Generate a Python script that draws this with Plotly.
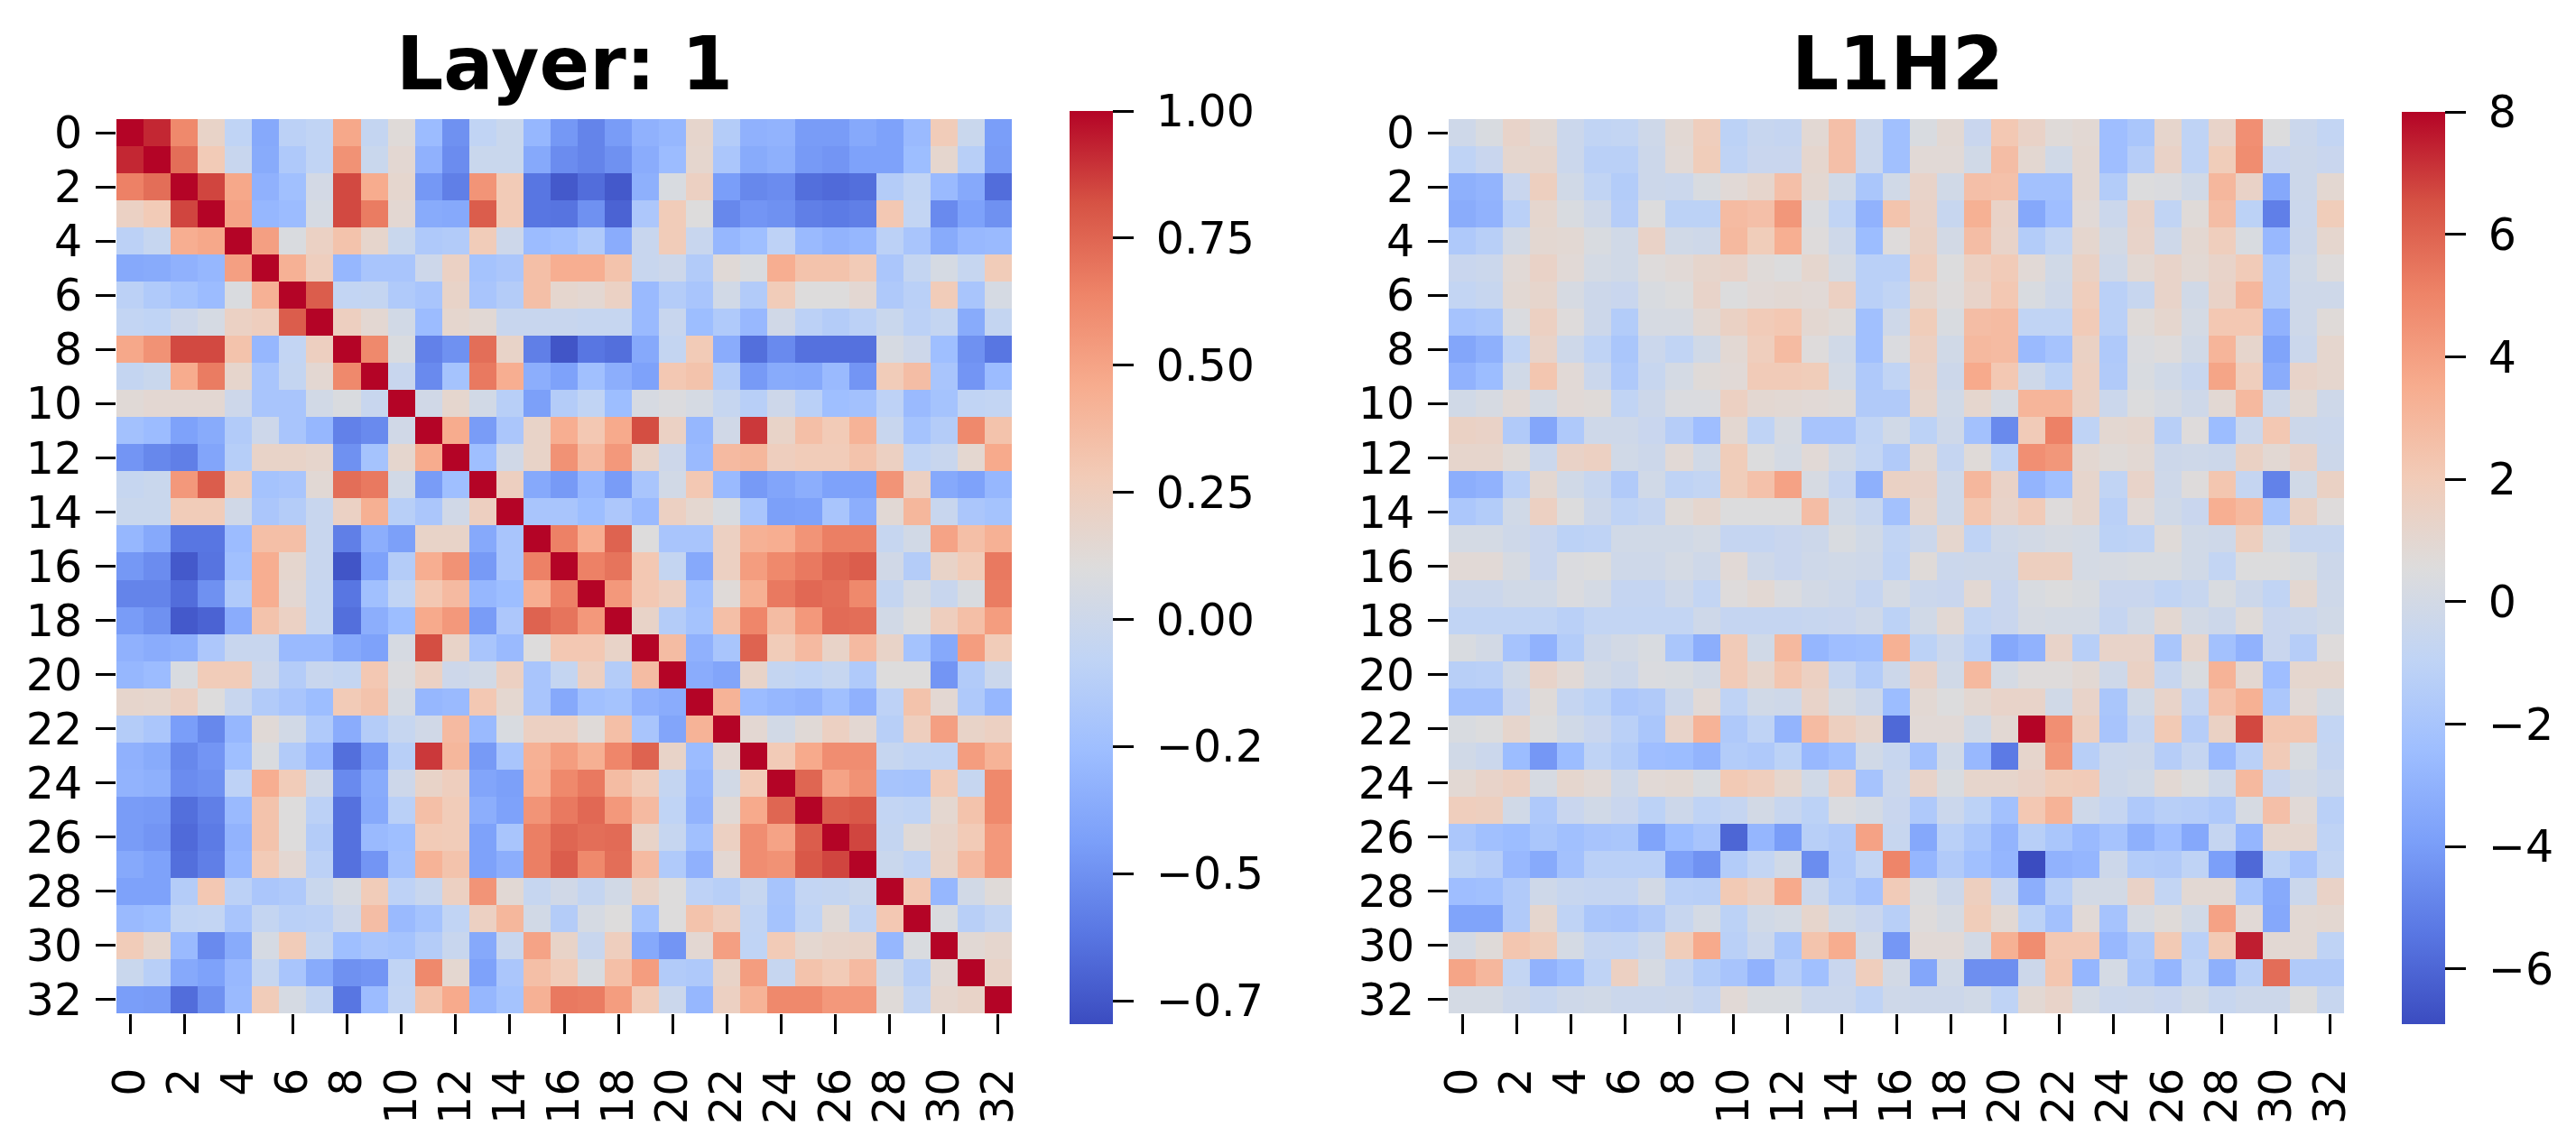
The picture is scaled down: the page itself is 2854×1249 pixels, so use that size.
import plotly.graph_objects as go

W = 2854
H = 1249
PAGE_PAD = 8  # the page body adds this much on the left and top

# Layer: 1, correlation matrix
layer_r00 = [1.0,.92,.62,.2,-.08,-.38,-.1,-.07,.48,-.05,.12,-.27,-.5,-.07,-.02,-.3,-.47,-.56,-.45,-.33,-.3,.18,-.14,-.33,-.32,-.45,-.45,-.38,-.42,-.28,.27,-.02,-.44]
layer_r01 = [.92,1.0,.72,.28,-.03,-.37,-.17,-.07,.58,-.02,.15,-.33,-.52,-.02,-.02,-.38,-.52,-.56,-.5,-.36,-.27,.17,-.19,-.37,-.34,-.46,-.48,-.42,-.42,-.26,.17,-.12,-.45]
layer_r02 = [.65,.72,1,.85,.48,-.33,-.24,.04,.84,.46,.17,-.47,-.58,.57,.28,-.62,-.74,-.66,-.74,-.34,.07,.23,-.44,-.54,-.52,-.65,-.67,-.65,-.14,-.07,-.28,-.38,-.66]
layer_r03 = [.22,.28,.85,1,.5,-.3,-.27,.05,.84,.67,.15,-.37,-.38,.78,.28,-.62,-.63,-.5,-.7,-.18,.27,.1,-.54,-.48,-.5,-.58,-.6,-.58,.3,-.06,-.53,-.42,-.5]
layer_r04 = [-.1,-.04,.45,.48,1,.52,.08,.22,.33,.18,-.02,-.17,-.15,.27,.0,-.27,-.24,-.16,-.36,-.03,.27,-.03,-.3,-.25,-.09,-.28,-.32,-.3,-.1,-.2,-.37,-.29,-.28]
layer_r05 = [-.38,-.37,-.33,-.3,.52,1,.43,.25,-.3,-.2,-.2,.0,.22,-.22,-.19,.35,.45,.45,.33,-.03,0,-.15,.13,.08,.45,.33,.33,.28,-.19,-.05,.05,-.04,.27]
layer_r06 = [-.1,-.16,-.22,-.27,.08,.43,1,.78,-.06,-.05,-.16,-.2,.2,-.2,-.14,.35,.17,.15,.22,-.28,-.14,-.2,.03,-.15,.27,.1,.1,.15,-.17,-.11,.27,-.2,.05]
layer_r07 = [-.06,-.08,0,.05,.22,.25,.78,1,.24,.15,.03,-.27,.17,.14,-.03,-.03,-.03,-.04,-.04,-.28,-.03,-.26,-.16,-.29,.02,-.1,-.14,-.1,-.02,-.1,-.05,-.37,-.05]
layer_r08 = [.48,.58,.84,.84,.33,-.3,-.06,.24,1,.62,.08,-.57,-.5,.72,.2,-.58,-.76,-.62,-.65,-.38,-.05,.28,-.36,-.65,-.53,-.64,-.64,-.64,.06,0,-.25,-.5,-.62]
layer_r09 = [-.05,-.02,.46,.67,.18,-.2,-.05,.15,.62,1,-.03,-.53,-.22,.68,.45,-.35,-.42,-.24,-.35,-.42,.3,.33,-.14,-.46,-.37,-.38,-.28,-.48,.27,.36,-.2,-.48,-.27]
layer_r10 = [.13,.15,.15,.15,0,-.2,-.2,.03,.08,-.03,1,.02,.17,.03,-.12,-.43,-.14,-.07,-.26,.06,.09,.05,-.04,-.12,0,-.11,-.25,-.23,-.09,-.28,-.22,-.07,-.06]
layer_r11 = [-.23,-.27,-.42,-.37,-.15,0,-.2,-.3,-.57,-.53,.02,1,.46,-.45,-.19,.2,.45,.3,.47,.83,.22,-.3,.02,.88,.2,.35,.28,.42,-.03,-.22,-.14,.62,.33]
layer_r12 = [-.48,-.54,-.58,-.4,-.13,.2,.2,.18,-.5,-.22,.17,.46,1,-.25,.02,.2,.58,.38,.55,.2,0,-.28,.38,.4,.25,.27,.27,.33,.23,-.07,-.03,.16,.47]
layer_r13 = [-.04,-.02,.55,.78,.27,-.22,-.2,.14,.72,.68,.03,-.45,-.25,1,.24,-.38,-.46,-.3,-.45,-.2,.03,.3,-.28,-.46,-.4,-.35,-.42,-.42,.57,.23,-.38,-.42,-.3]
layer_r14 = [-.02,-.02,.27,.27,.02,-.19,-.14,-.03,.22,.44,-.12,-.19,.02,.24,1,-.2,-.2,-.26,-.18,-.28,.23,.16,.07,-.2,-.43,-.42,-.2,-.35,.14,.4,-.03,-.19,-.22]
layer_r15 = [-.3,-.38,-.62,-.62,-.27,.35,.35,-.03,-.58,-.35,-.43,.2,.2,-.38,-.2,1,.65,.45,.76,.1,-.2,-.2,.23,.43,.45,.57,.66,.66,-.04,.03,.5,.35,.43]
layer_r16 = [-.47,-.52,-.74,-.63,-.24,.45,.17,-.03,-.76,-.42,-.14,.45,.58,-.46,-.2,.65,1,.65,.7,.3,-.05,-.38,.23,.53,.62,.68,.75,.78,.02,-.14,.2,.27,.68]
layer_r17 = [-.56,-.56,-.66,-.5,-.16,.45,.15,-.04,-.62,-.24,-.07,.3,.38,-.3,-.26,.45,.65,1,.55,.3,.24,-.24,.12,.44,.68,.74,.72,.62,-.05,.05,-.03,.07,.67]
layer_r18 = [-.45,-.5,-.74,-.7,-.36,.33,.22,-.04,-.65,-.35,-.26,.47,.55,-.45,-.18,.76,.7,.55,1,.2,-.14,-.22,.35,.63,.37,.55,.73,.72,.03,.1,.25,.35,.53]
layer_r19 = [-.33,-.36,-.34,-.18,-.03,-.03,-.28,-.28,-.38,-.42,.06,.83,.2,-.2,-.28,.1,.3,.3,.2,1,.37,-.33,-.2,.76,.27,.38,.2,.38,.2,-.22,-.38,.53,.27]
layer_r20 = [-.3,-.27,.07,.27,.27,0,-.14,-.03,-.05,.3,.09,.22,0,.03,.23,-.2,-.05,.24,-.14,.37,1,-.36,-.4,.2,-.05,-.08,-.04,-.16,.1,.1,-.48,-.15,-.01]
layer_r21 = [.18,.17,.23,.1,-.03,-.15,-.2,-.26,.28,.33,.05,-.3,-.28,.3,.16,-.2,-.38,-.24,-.22,-.33,-.36,1,.42,-.27,-.3,-.32,-.24,-.33,-.09,.33,.15,-.17,-.3]
layer_r22 = [-.14,-.19,-.44,-.54,-.3,.13,.03,-.16,-.36,-.14,-.04,.02,.38,-.28,.07,.23,.23,.12,.35,-.2,-.4,.42,1,.15,.03,.13,.23,.15,-.12,.25,.52,.2,.23]
layer_r23 = [-.33,-.37,-.54,-.48,-.25,.08,-.15,-.29,-.65,-.46,-.12,.88,.4,-.46,-.2,.43,.53,.44,.63,.76,.2,-.27,.15,1,.28,.47,.6,.6,-.04,-.07,-.08,.53,.42]
layer_r24 = [-.32,-.34,-.52,-.5,-.09,.45,.27,.02,-.53,-.37,0,.2,.25,-.4,-.43,.45,.62,.68,.37,.27,-.05,-.3,.03,.28,1,.75,.5,.58,-.21,-.22,.28,-.04,.62]
layer_r25 = [-.45,-.46,-.65,-.58,-.28,.33,.1,-.1,-.64,-.38,-.11,.35,.27,-.35,-.42,.57,.68,.74,.55,.38,-.08,-.32,.13,.47,.75,1,.78,.8,-.06,-.08,.16,.33,.62]
layer_r26 = [-.45,-.48,-.67,-.6,-.32,.33,.1,-.14,-.64,-.28,-.25,.28,.27,-.42,-.2,.66,.75,.72,.73,.2,-.04,-.24,.23,.6,.5,.78,1,.85,-.05,.13,.19,.28,.55]
layer_r27 = [-.38,-.42,-.65,-.58,-.3,.28,.15,-.1,-.64,-.48,-.23,.42,.33,-.42,-.35,.66,.78,.62,.72,.38,-.16,-.33,.15,.6,.58,.8,.85,1,-.02,-.07,.2,.38,.55]
layer_r28 = [-.42,-.42,-.14,.3,-.1,-.19,-.17,-.02,.06,.27,-.09,-.03,.23,.57,.14,-.04,.02,-.05,.03,.2,.1,-.09,-.12,-.04,-.21,-.06,-.05,-.02,1,.3,-.3,.03,.12]
layer_r29 = [-.28,-.26,-.07,-.06,-.2,-.05,-.11,-.1,0,.36,-.28,-.22,-.07,.23,.4,.03,-.14,.05,.1,-.22,.1,.33,.25,-.07,-.22,-.08,.13,-.07,.3,1,.08,-.12,-.06]
layer_r30 = [.27,.17,-.28,-.53,-.37,.05,.27,-.05,-.25,-.2,-.22,-.14,-.03,-.38,-.03,.5,.2,-.03,.25,-.38,-.48,.15,.52,-.08,.28,.16,.19,.2,-.3,.08,1,.14,.17]
layer_r31 = [-.02,-.12,-.38,-.42,-.29,-.04,-.2,-.37,-.5,-.48,-.07,.62,.16,-.42,-.19,.35,.27,.07,.35,.53,-.15,-.17,.2,.53,-.04,.33,.28,.38,.03,-.12,.14,1,.2]
layer_r32 = [-.44,-.45,-.66,-.5,-.28,.27,.05,-.05,-.62,-.27,-.06,.33,.47,-.3,-.22,.43,.68,.67,.53,.27,-.01,-.3,.23,.42,.62,.62,.55,.55,.12,-.06,.17,.2,1]

# L1H2
head_r00 = [-.2,.3,1.3,.9,-.4,-.9,-.8,-.2,.9,1.8,-1.1,-.6,-.7,.9,2.6,-.4,-2.3,.3,.9,-.5,2.2,1.4,.7,.9,-2.4,-1.9,1.2,-1.0,1.3,4.6,.5,-.4,-.8]
head_r01 = [-1.0,-.5,1.1,1.2,-.4,-1.2,-1.2,-.3,.8,1.9,-1.0,-.5,-.5,1.1,2.6,-.4,-2.3,.8,.8,-.1,2.7,1.0,-.1,1.0,-2.4,-1.4,1.4,-1.0,1.9,4.7,-.5,-.3,-.5]
head_r02 = [-3.1,-2.9,-.5,1.7,-.1,-.9,-1.5,-.3,-.4,.3,.8,1.2,2.6,1.0,-.1,-1.9,-.1,1.3,-.1,2.6,2.5,-2.2,-2.2,1,-1.5,.5,.4,-.1,3.0,1.4,-3.5,-.3,1]
head_r03 = [-3.3,-3.0,-1.2,1.1,.3,-.2,-1.4,.5,-1.1,-1.1,2.8,2.6,4.3,.4,-.9,-3.0,2.4,1.4,-.6,3.3,1.4,-3.5,-2.4,.8,-.4,1.4,-.9,.7,2.7,-1.1,-5.1,-.4,1.9]
head_r04 = [-1.7,-1.3,0,1,.9,.3,-.1,1.4,-.1,-.2,2.9,1.9,3.4,.6,-.2,-2.5,.6,1.5,0,2.7,1.3,-1.5,-.8,1.1,0,1.3,-.2,1,1.8,.3,-2.7,-.3,1.1]
head_r05 = [-.5,-.4,.8,1.4,.8,.1,-.1,.6,.8,1.2,1.3,.7,.5,1.1,.2,-1.2,-1.2,1.8,.5,1.6,2,.8,-.1,1.5,-.2,.9,1.3,.9,1.3,2,-1.7,-.1,.6]
head_r06 = [-.8,-.6,.9,1.2,.2,-.3,-.5,.3,.5,1.3,.5,.8,.9,.8,1.6,-1.2,-.9,1.2,.6,1.3,2.2,.3,-.2,1.8,-1.2,-.6,1.3,-.1,1.4,3.0,-1.7,-.2,-.2]
head_r07 = [-2.1,-1.9,.4,1.6,.6,-.3,-1.5,.2,.2,.9,1.5,2.0,2.2,1,.7,-2.3,-.2,1.9,.3,2.7,2.8,-.9,-.9,2.0,-1.2,.7,1.1,.1,2.2,2.2,-3,-.2,.7]
head_r08 = [-3.6,-3.1,-.9,1.3,-.2,-1,-1.9,-.4,-.9,-.1,.9,1.8,2.8,.6,-.1,-2.3,.4,1.6,-.1,2.9,2.8,-2.6,-2.1,1.5,-1.7,.4,.6,-.1,3.1,1.2,-3.7,-.4,1.1]
head_r09 = [-3.0,-2.5,-.1,2.3,.8,-.4,-1.7,-.6,.1,.7,.8,2,2,1.9,.1,-1.7,-.9,1.4,-.3,3.6,2.2,-.2,-1.1,1.6,-1.6,.3,-.1,-.6,3.8,1.8,-3.3,1.3,1.1]
head_r10 = [-.1,.2,.8,.1,.8,.7,-.9,-.3,.4,.4,1.6,1,.9,.8,.7,-1.6,-1.6,1.2,-.1,1.1,.2,3.1,3.1,1.5,-.4,.5,.2,-.2,.9,2.9,-.3,.9,-.2]
head_r11 = [1.5,1.4,-1.6,-3.6,-1.7,-.2,-.2,-.5,-1.4,-2.4,1,-1,.2,-2,-2.0,-.9,-.1,-1.1,-.2,-2.2,-4.7,2,5.1,-1,1,1.1,-1.3,.6,-2.5,-.4,2.2,-.3,-.4]
head_r12 = [1.2,1.2,.7,-.4,1.4,1.6,-.1,-.3,.8,-.1,1.9,.5,.1,.8,-.1,-.8,-1.6,1,-.7,.7,-1,4.6,4.3,1,.7,.9,-.3,-.2,-.3,1.5,.9,1.4,-.3]
head_r13 = [-3.2,-3,-1.2,1,-.1,-.6,-1.6,-.1,-1,-.8,1.9,2.5,3.9,.2,-.7,-3.1,1.5,1.4,-.2,3,1.4,-2.9,-2.3,1.2,-.9,1.3,-.2,.6,2.3,-.7,-5,-.1,1.5]
head_r14 = [-1.8,-1.5,-.1,1.6,.5,-.3,-1,-.7,.7,1.1,.5,.5,.5,2.7,-.1,-.6,-2.2,1.2,-.2,2.3,1.3,2,.6,1.2,-1.2,.8,-.1,-.5,3.4,2.9,-1.9,1.5,.6]
head_r15 = [.1,.1,-.2,-.5,-1.1,-1,-.1,-.1,-.1,.1,-.7,-.7,-.5,-.3,.3,-.1,-.9,-.4,1.1,-1,-.2,0,.2,.1,-1.1,-1,.7,-.1,-.2,1.7,.1,-.6,-.6]
head_r16 = [.8,.8,.2,-.5,.4,.5,-.2,-.2,.1,-.2,.8,-.2,-.5,-.2,-.1,-.2,-1,.7,-.4,-.3,-.3,1.7,1.7,.1,.2,.3,.3,-.1,-.8,.5,.5,.3,-.3]
head_r17 = [-.4,-.4,-.1,-.1,.4,.1,-.7,-.7,-.2,-.8,.6,.9,.4,0,-.2,-.7,.1,-.4,-.5,.9,-.5,.3,.5,.3,-.5,-.5,-.9,-.6,.3,-.3,-.9,1.0,-.2]
head_r18 = [-.9,-.9,-.9,-.9,-1.2,-.8,-.8,-.8,-.8,-.2,-.7,-.7,-.7,-.6,-.5,-.2,-1.1,-.1,.9,-.8,-.5,.2,.1,.1,-.7,-.1,1,0,-.3,.7,-.5,-.4,-.1]
head_r19 = [.3,0,-2.1,-3,-1.5,-.3,0,.3,-1.9,-3.2,2,-.1,2.9,-2.8,-2.4,-2.3,3.3,-1.1,-.4,-1.2,-3.5,-3,1.3,-1.3,1.3,1.3,-1.9,1.2,-2.2,-3,-.5,-1.4,.6]
head_r20 = [-1.3,-1.2,-.1,1.3,.8,0,-.3,.4,.3,0,2,1.2,2.3,1.6,-.6,-1.5,-.3,1.4,-.1,2.9,.1,.6,.6,.9,-.2,1.5,-.6,.3,3.2,1,-2.4,1.1,1.1]
head_r21 = [-2.2,-2.2,-.5,.7,-.7,-1.1,-1.8,-1.6,-.3,.8,-1,-.1,-.2,1.3,.2,-.3,-2.5,.9,.5,1,1.3,1.3,-.1,1.3,-1.9,-.1,1.3,-.7,2.5,3.3,-1.8,.8,.1]
head_r22 = [.3,.5,1.2,.5,-.1,-.5,-1.2,-1.9,1.3,3.2,-1.7,-1,-2.9,2.8,1.7,1.2,-5.9,.8,.8,-.1,.9,8,4.6,1.7,-2,-.7,2.1,-1.4,1.5,6.7,2.3,2.3,-.8]
head_r23 = [-.1,-.4,-2.5,-4.2,-2.5,-1,-1.5,-2.4,-2.5,-2.9,-1.5,-1.7,-1.1,-2.7,-2.3,-.1,-.6,-2.2,-.1,-2.7,-5.3,1.2,4.3,-1.3,-.4,-.3,-1.4,-.7,-2.6,-1.2,2,.3,-.7]
head_r24 = [.9,1.3,1.6,.2,1.1,.8,-.2,.8,.9,.3,2.1,1.8,1.1,-.1,1.6,-2.1,-.4,1.3,.3,1.2,1.2,1.4,1.9,2.0,-.3,-.1,.9,.5,-.2,2.9,-.5,0,-.4]
head_r25 = [1.8,1.7,-.1,-1.7,-.5,-.1,-.5,-1.1,-.3,-1,-.7,0,-.6,-1.1,.4,.1,-.5,-1.7,-.4,-1.1,-2.2,2.2,3.2,-.2,-.7,-1.7,-1.3,-1.4,-1.7,.2,2.6,.8,-1.2]
head_r26 = [-1.8,-2.3,-2.5,-1.9,-2.3,-2,-1.9,-3.7,-2.5,-2.0,-6,-2.8,-4,-1.3,-1.6,3.9,-.6,-3.5,-1.2,-1.9,-2.9,-1.3,-1.9,-2.6,-2.1,-3.1,-2.4,-3.5,-.7,-2.8,1.1,1.1,-1.0]
head_r27 = [-1.1,-1.4,-2.7,-3.4,-2.2,-1.2,-1.2,-1.2,-3.8,-4.4,-1.5,-.8,-.1,-4.6,-1.7,-.8,5,-2.8,-1.6,-2.3,-2.8,-6.9,-3,-2.8,-.3,-1.5,-1.6,-1,-3.9,-5.9,-1.1,-2.0,-.8]
head_r28 = [-2.4,-2.3,-1.6,-.2,-.6,-.7,-.7,0,-1.2,-1.3,2.1,1.6,3.6,-.4,-1.5,-2.1,2.0,.4,-.3,1.7,-.5,-3.2,-1.3,0,0,1.4,-.8,.9,.9,-1.9,-3.4,-.4,1.4]
head_r29 = [-3.7,-3.7,-1.6,1.1,-1,-1.9,-2,-1.6,-.6,.1,-1.1,-.1,.1,1.2,-.1,-.5,-1.3,.6,.2,1.9,.9,-1.1,-2.2,.8,-2.1,.2,.7,-.1,3.9,.8,-3.5,.9,1]
head_r30 = [.1,.7,2.3,1.9,.1,-.7,-.8,-.2,1.9,3.6,-1.2,-.4,-1.9,2.4,3.5,0,-4.2,.8,.8,0,3.3,4.7,2.2,2.2,-2.7,-1.7,2.1,-1.2,2.1,7.5,.9,.9,-1]
head_r31 = [3.8,3.0,-.8,-3,-2.5,-1,1.6,.2,-.7,-1.5,-2,-3,-1.4,-2.3,-.5,1.8,0,-3.6,-.1,-4.5,-4.5,-.3,2.3,-2.8,.1,-1.9,-2.8,-1.0,-3.1,-1.3,5.7,-1.6,-1.6]
head_r32 = [.1,.1,-.3,-.6,-.2,-.1,-.4,-.4,-.3,-.7,.8,.3,.3,-.4,-.4,-1,-.2,-.3,-.3,-.1,-1,.9,1.3,.1,-.4,-.3,-.5,-.1,-.6,-.3,-.3,.5,-.6]

layer_z = [layer_r00, layer_r01, layer_r02, layer_r03, layer_r04, layer_r05, layer_r06, layer_r07, layer_r08, layer_r09, layer_r10,
           layer_r11, layer_r12, layer_r13, layer_r14, layer_r15, layer_r16, layer_r17, layer_r18, layer_r19, layer_r20, layer_r21,
           layer_r22, layer_r23, layer_r24, layer_r25, layer_r26, layer_r27, layer_r28, layer_r29, layer_r30, layer_r31, layer_r32]
head_z = [head_r00, head_r01, head_r02, head_r03, head_r04, head_r05, head_r06, head_r07, head_r08, head_r09, head_r10,
          head_r11, head_r12, head_r13, head_r14, head_r15, head_r16, head_r17, head_r18, head_r19, head_r20, head_r21,
          head_r22, head_r23, head_r24, head_r25, head_r26, head_r27, head_r28, head_r29, head_r30, head_r31, head_r32]

even_ticks = list(range(0, 33, 2))

layer_cb_vals = [1.0, 0.75, 0.5, 0.25, 0.0, -0.25, -0.5, -0.75]
layer_cb_text = ['1.00', '0.75', '0.50', '0.25', '0.00', '−0.2', '−0.5', '−0.7']  # cut off in the original
head_cb_vals = [8, 6, 4, 2, 0, -2, -4, -6]
head_cb_text = ['8', '6', '4', '2', '0', '−2', '−4', '−6']

coolwarm = [[0.0, '#3b4cc0'], [0.1, '#5977e3'], [0.2, '#7b9ff9'], [0.3, '#9ebeff'], [0.4, '#c0d4f5'], [0.5, '#dddcdc'],
            [0.6, '#f2cbb7'], [0.7, '#f7ac8e'], [0.8, '#ee8468'], [0.9, '#d65244'], [1.0, '#b40426']]

font = 'DejaVu Sans'
tick_size = 49


def px_x(x):
    return (x - PAGE_PAD) / W


def px_y(y):
    return 1 - (y - PAGE_PAD) / H


def colorbar(x_px, top_px, bottom_px, vals, text):
    return dict(x=px_x(x_px), xanchor='left', thickness=48, xpad=0, ypad=0,
                y=px_y(bottom_px), yanchor='bottom', len=(bottom_px - top_px) / H, lenmode='fraction',
                tickmode='array', tickvals=vals, ticktext=['\u00a0' + t for t in text], ticks='outside', ticklen=23, tickwidth=3,
                tickcolor='black', outlinewidth=0, tickfont=dict(family=font, size=tick_size, color='black'))


fig = go.Figure()

fig.add_trace(go.Heatmap(z=layer_z, zmin=-0.796, zmax=1.0, colorscale=coolwarm, xaxis='x', yaxis='y',
                         colorbar=colorbar(1185, 123, 1135, layer_cb_vals, layer_cb_text)))
fig.add_trace(go.Heatmap(z=head_z, zmin=-6.9, zmax=8, colorscale=coolwarm, xaxis='x2', yaxis='y2',
                         colorbar=colorbar(2661, 124, 1135, head_cb_vals, head_cb_text)))

axis_style = dict(tickmode='array', tickvals=even_ticks, ticktext=[str(t) for t in even_ticks], ticks='outside', ticklen=22,
                  tickwidth=3, tickcolor='black', showgrid=False, zeroline=False, showline=False,
                  tickfont=dict(family=font, size=tick_size, color='black'))

fig.update_layout(
    width=W, height=H, margin=dict(l=0, r=0, t=0, b=0, autoexpand=False), paper_bgcolor='white', plot_bgcolor='white', showlegend=False,
    xaxis=dict(domain=[px_x(129), px_x(1121)], range=[-0.5, 32.5], tickangle=-90, anchor='y', ticklabelstandoff=18, **axis_style),
    yaxis=dict(domain=[px_y(1123), px_y(132)], range=[32.5, -0.5], anchor='x', ticklabelstandoff=5, **axis_style),
    xaxis2=dict(domain=[px_x(1605), px_x(2597)], range=[-0.5, 32.5], tickangle=-90, anchor='y2', ticklabelstandoff=18, **axis_style),
    yaxis2=dict(domain=[px_y(1123), px_y(132)], range=[32.5, -0.5], anchor='x2', ticklabelstandoff=5, **axis_style),
    annotations=[
        dict(text='<b>Layer: 1</b>', x=px_x(625), y=px_y(71), xref='paper', yref='paper', showarrow=False,
             xanchor='center', yanchor='middle', font=dict(family=font, size=82, color='black')),
        dict(text='<b>L1H2</b>', x=px_x(2102), y=px_y(71), xref='paper', yref='paper', showarrow=False,
             xanchor='center', yanchor='middle', font=dict(family=font, size=82, color='black')),
    ],
)

fig.write_html('out.html')
